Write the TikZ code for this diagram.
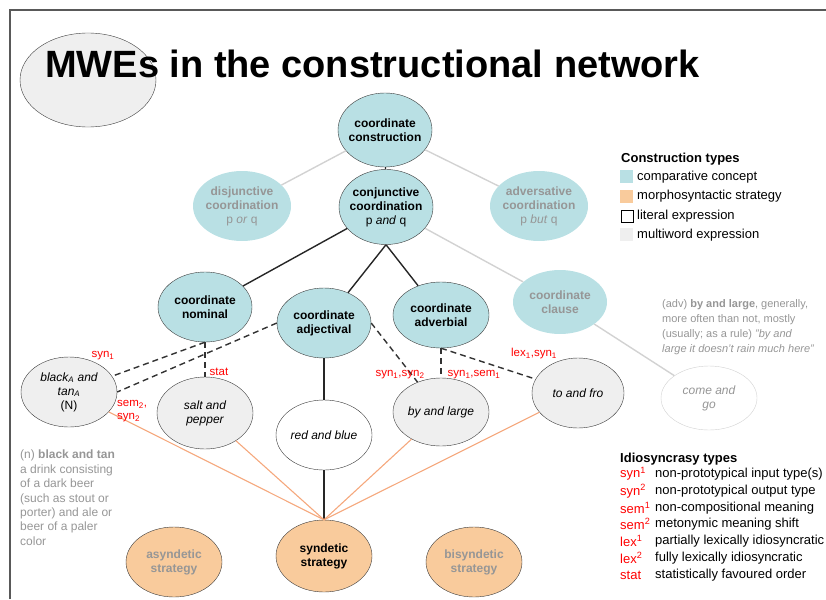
\documentclass[tikz,border=0pt]{standalone}
\usepackage{xcolor}
\usepackage{fontspec}
\setmainfont{Liberation Sans}
\usepackage{tikz}
\usetikzlibrary{shapes.geometric}

\definecolor{concept}{RGB}{185,224,228}
\definecolor{strategy}{RGB}{249,203,156}
\definecolor{mwefill}{RGB}{239,239,239}
\definecolor{fadedtext}{RGB}{150,150,150}
\definecolor{fadedline}{RGB}{210,210,210}
\definecolor{stratline}{RGB}{245,168,125}
\definecolor{outline}{RGB}{60,60,60}
\definecolor{idiored}{RGB}{255,0,0}

\newcommand{\nodefont}{\fontsize{12}{14}\selectfont}
\newcommand{\labfont}{\fontsize{11.5}{13}\selectfont}
\newcommand{\legfont}{\fontsize{13}{15}\selectfont}

\begin{document}
\begin{tikzpicture}[x=1pt,y=-1pt]
        \tikzstyle{ell}=[ellipse,inner xsep=-10pt,inner ysep=-6pt,align=center,minimum width=96pt,minimum height=70pt]
        \tikzstyle{cpt}=[ell,draw=outline,fill=concept,font=\nodefont\bfseries]
        \tikzstyle{cptfaded}=[ell,fill=concept,text=fadedtext,font=\nodefont\bfseries]
        \tikzstyle{mwe}=[ell,draw=outline,fill=mwefill,font=\nodefont\itshape]
        \tikzstyle{lit}=[ell,draw=outline,fill=white,font=\nodefont\itshape]
        \tikzstyle{strat}=[ell,draw=outline,fill=strategy,font=\nodefont\bfseries]
        \tikzstyle{tree}=[draw=black!85,line width=1.4pt]
        \tikzstyle{faint}=[draw=fadedline,line width=1.4pt]
        \tikzstyle{idio}=[draw=black!80,line width=1.4pt,dash pattern=on 6pt off 4pt]
        \tikzstyle{strline}=[draw=stratline,line width=1.1pt]
        \tikzstyle{idiolab}=[text=idiored,font=\labfont,inner sep=0pt,align=left]
        \tikzstyle{note}=[text=fadedtext,inner sep=0pt,align=left,anchor=north west]
        \tikzstyle{swatch}=[minimum size=13pt,inner sep=0pt,anchor=north west]

        \useasboundingbox (0,0) rectangle (826,599);
        \draw[black!65,line width=2pt] (10,599) -- (10,10) -- (826,10);

        % title
        \node[ell,draw=outline,fill=mwefill,minimum width=136pt,minimum height=94pt] (mwes) at (88,80) {};
        \node[anchor=base west,inner sep=0pt,font=\fontsize{38}{40}\selectfont\bfseries] (title) at (45,78) {MWEs in the constructional network};

        % comparative concepts
        \node[cpt,minimum width=94pt,minimum height=74pt] (cc) at (385,130) {coordinate\\construction};
        \node[cpt,minimum width=94pt,minimum height=75pt] (conj) at (386,207) {conjunctive\\coordination\\\mdseries p \textit{and} q};
        \node[cptfaded,minimum width=98pt] (disj) at (242,206) {disjunctive\\coordination\\\mdseries p \textit{or} q};
        \node[cptfaded,minimum width=98pt] (advs) at (539,206) {adversative\\coordination\\\mdseries p \textit{but} q};
        \node[cpt,minimum width=94pt] (nom) at (205,307) {coordinate\\nominal};
        \node[cpt,minimum width=94pt] (adj) at (324,323) {coordinate\\adjectival};
        \node[cpt,minimum height=66pt] (advb) at (441,315) {coordinate\\adverbial};
        \node[cptfaded,minimum width=94pt,minimum height=64pt] (clause) at (560,302) {coordinate\\clause};

        % expressions
        \node[mwe] (bt) at (69,392) {black\textsubscript{A} and\\tan\textsubscript{A}\\\upshape(N)};
        \node[mwe,minimum height=72pt] (sp) at (205,413) {salt and\\pepper};
        \node[lit] (rb) at (324,435) {red and blue};
        \node[mwe,minimum height=68pt] (bl) at (441,412) {by and large};
        \node[mwe,minimum width=92pt] (tf) at (578,393) {to and fro};
        \node[ell,draw=fadedline,fill=white,text=fadedtext,font=\nodefont\itshape,minimum height=64pt] (cg) at (709,398) {come and\\go};

        % strategies
        \node[strat,text=fadedtext] (asyn) at (174,562) {asyndetic\\strategy};
        \node[strat,minimum height=72pt] (syn) at (324,556) {syndetic\\strategy};
        \node[strat,text=fadedtext] (bisyn) at (474,562) {bisyndetic\\strategy};

        % links
        \path[tree] (cc) -- (conj);
        \path[faint] (cc) -- (disj);
        \path[faint] (cc) -- (advs);
        \path[tree] (conj) -- (nom);
        \path[tree] (conj.south) -- (adj);
        \path[tree] (conj.south) -- (advb);
        \path[faint] (conj) -- (clause);
        \path[faint] (clause) -- (cg);
        \path[tree] (adj) -- (rb);
        \path[tree] (rb) -- (syn);

        \path[idio] (nom.south) -- (bt);
        \path[idio] (nom.south) -- (sp);
        \path[idio] (adj.west) -- (bt.east);
        \path[idio] (adj.east) -- (bl);
        \path[idio] (advb.south) -- (bl);
        \path[idio] (advb.south) -- (tf);

        \path[strline] (bt) -- (syn.north);
        \path[strline] (sp) -- (syn.north);
        \path[strline] (bl) -- (syn.north);
        \path[strline] (tf) -- (syn.north);

        % idiosyncrasy labels
        \node[idiolab] (l1) at (103,356) {syn\textsubscript{1}};
        \node[idiolab] (l2) at (219,372) {stat};
        \node[idiolab,anchor=west] (l3) at (117,411) {sem\textsubscript{2},\\syn\textsubscript{2}};
        \node[idiolab] (l4) at (400,375) {syn\textsubscript{1},syn\textsubscript{2}};
        \node[idiolab] (l5) at (474,375) {syn\textsubscript{1},sem\textsubscript{1}};
        \node[idiolab] (l6) at (534,354) {lex\textsubscript{1},syn\textsubscript{1}};

        % glosses
        \node[note,font=\fontsize{12}{14.4}\selectfont] (btnote) at (20,450) {(n) \textbf{black and tan}\\a drink consisting\\of a dark beer\\(such as stout or\\porter) and ale or\\beer of a paler\\color};
        \node[note,font=\fontsize{11}{15}\selectfont] (blnote) at (662,299) {(adv) \textbf{by and large}, generally,\\more often than not, mostly\\(usually; as a rule) \textit{"by and}\\\textit{large it doesn't rain much here"}};

        % legend: construction types
        \node[anchor=base west,inner sep=0pt,font=\legfont\bfseries] (ctypes) at (621,162) {Construction types};
        \node[swatch,fill=concept] (k1) at (620,170) {};
        \node[swatch,fill=strategy] (k2) at (620,190) {};
        \node[swatch,draw=black,fill=white,minimum size=12pt] (k3) at (620.5,210) {};
        \node[swatch,fill=mwefill] (k4) at (620,228) {};
        \node[anchor=west,font=\legfont,inner sep=0pt] (t1) at (637,177) {comparative concept};
        \node[anchor=west,font=\legfont,inner sep=0pt] (t2) at (637,196) {morphosyntactic strategy};
        \node[anchor=west,font=\legfont,inner sep=0pt] (t3) at (637,216) {literal expression};
        \node[anchor=west,font=\legfont,inner sep=0pt] (t4) at (637,235) {multiword expression};

        % legend: idiosyncrasy types
        \node[anchor=base west,inner sep=0pt,font=\legfont\bfseries] (itypes) at (620,462) {Idiosyncrasy types};
        \foreach \y/\tag/\desc [count=\i] in {
            474/syn\textsuperscript{1}/non-prototypical input type(s),
            491/syn\textsuperscript{2}/non-prototypical output type,
            508/sem\textsuperscript{1}/non-compositional meaning,
            524/sem\textsuperscript{2}/metonymic meaning shift,
            541/lex\textsuperscript{1}/partially lexically idiosyncratic,
            558/lex\textsuperscript{2}/fully lexically idiosyncratic,
            575/stat/statistically favoured order} {
            \node[anchor=west,inner sep=0pt,text=idiored,font=\legfont] (tag\i) at (620,\y) {\tag};
            \node[anchor=west,inner sep=0pt,font=\legfont] (desc\i) at (655,\y) {\desc};
        }
    \end{tikzpicture}
\end{document}
